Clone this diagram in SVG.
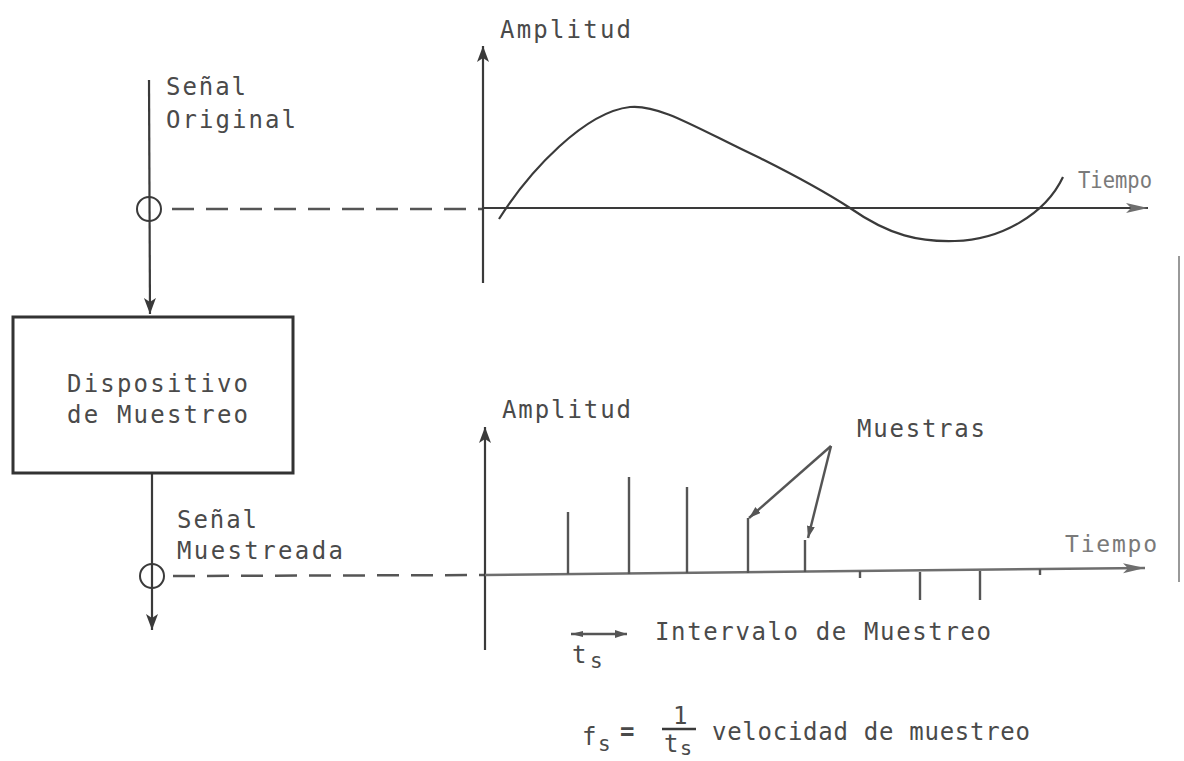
<svg xmlns="http://www.w3.org/2000/svg" width="1184" height="761" viewBox="0 0 1184 761">
<style>
.t{font-family:"DejaVu Sans Mono","Liberation Mono",monospace;font-size:24px;fill:#4a4a4a}
.lt{font-family:"DejaVu Sans Mono","Liberation Mono",monospace;font-size:23px;fill:#7a7a7a}
.ln{stroke:#3a3a3a;stroke-width:2.2;fill:none}
.gl{stroke:#6e6e6e;stroke-width:2.5;fill:none}
.ds{stroke:#555;stroke-width:2.5;fill:none;stroke-dasharray:22 12}
.smp{stroke:#555;stroke-width:2.4}
</style>
<defs>
<marker id="ah" markerUnits="userSpaceOnUse" markerWidth="20" markerHeight="14" refX="16" refY="6" orient="auto">
<path d="M0,0 L16,6 L0,12 L4,6 Z" fill="#3a3a3a"/>
</marker>
<marker id="ahg" markerUnits="userSpaceOnUse" markerWidth="24" markerHeight="14" refX="22" refY="6" orient="auto">
<path d="M0,1 L22,6 L0,11 L5,6 Z" fill="#6e6e6e"/>
</marker>
<marker id="ahs" markerUnits="userSpaceOnUse" markerWidth="14" markerHeight="10" refX="12" refY="4" orient="auto">
<path d="M0,0 L12,4 L0,8 Z" fill="#555"/>
</marker>
<marker id="ahss" markerUnits="userSpaceOnUse" markerWidth="14" markerHeight="10" refX="0" refY="3" orient="auto">
<path d="M12,0 L0,3 L12,6 Z" fill="#555"/>
</marker>
</defs>
<rect width="1184" height="761" fill="#ffffff"/>

<g id="connectors">
<line class="ln" x1="149" y1="80" x2="150" y2="314" marker-end="url(#ah)"/>
<line class="ln" x1="152" y1="473" x2="152" y2="630" marker-end="url(#ah)"/>
<line class="ds" x1="172" y1="209" x2="482" y2="209"/>
<line class="ds" x1="173" y1="576" x2="485" y2="575"/>
<line class="smp" x1="831" y1="446" x2="749" y2="518" marker-end="url(#ahs)"/>
<line class="smp" x1="831" y1="446" x2="808" y2="538" marker-end="url(#ahs)"/>
</g>

<g id="top-chart">
<line class="ln" x1="483" y1="283" x2="483" y2="46" marker-end="url(#ah)"/>
<line class="ln" x1="482" y1="208" x2="1148" y2="208" marker-end="url(#ahg)"/>
<path class="ln" d="M499,219 C530,170 585,112 630,107 C660,104 700,130 760,158 C800,178 830,195 850,208 C890,236 920,242 955,241 C1000,240 1045,215 1063,177"/>
<text class="t" x="500" y="38" textLength="131" lengthAdjust="spacing">Amplitud</text>
<text class="lt" x="1078" y="188" textLength="74" lengthAdjust="spacingAndGlyphs">Tiempo</text>
</g>

<g id="input-node">
<circle cx="149" cy="209" r="12" fill="none" stroke="#3a3a3a" stroke-width="2"/>
<text class="t" x="166" y="95" textLength="80" lengthAdjust="spacing">Señal</text>
<text class="t" x="166" y="128" textLength="130" lengthAdjust="spacing">Original</text>
</g>

<g id="sampler">
<rect x="13" y="317" width="280" height="156" fill="none" stroke="#333" stroke-width="3"/>
<text class="t" x="67" y="392" textLength="181" lengthAdjust="spacing">Dispositivo</text>
<text class="t" x="67" y="423" textLength="181" lengthAdjust="spacing">de Muestreo</text>
</g>

<g id="output-node">
<circle cx="152" cy="576" r="12" fill="none" stroke="#3a3a3a" stroke-width="2"/>
<text class="t" x="177" y="528" textLength="80" lengthAdjust="spacing">Señal</text>
<text class="t" x="177" y="559" textLength="166" lengthAdjust="spacing">Muestreada</text>
</g>

<g id="bottom-chart">
<line class="ln" x1="485" y1="650" x2="485" y2="427" marker-end="url(#ah)"/>
<line class="gl" x1="485" y1="575" x2="1145" y2="568" marker-end="url(#ahg)"/>
<line class="smp" x1="568" y1="512" x2="568" y2="574"/>
<line class="smp" x1="629" y1="477" x2="629" y2="574"/>
<line class="smp" x1="687" y1="487" x2="687" y2="573"/>
<line class="smp" x1="748" y1="518" x2="748" y2="573"/>
<line class="smp" x1="805" y1="540" x2="805" y2="572"/>
<line class="smp" x1="860" y1="571" x2="860" y2="578"/>
<line class="smp" x1="920" y1="572" x2="920" y2="600"/>
<line class="smp" x1="980" y1="571" x2="980" y2="600"/>
<line class="smp" x1="1040" y1="569" x2="1040" y2="575"/>
<text class="t" x="502" y="418" textLength="129" lengthAdjust="spacing">Amplitud</text>
<text class="t" x="857" y="437" textLength="128" lengthAdjust="spacing">Muestras</text>
<text class="lt" x="1065" y="552" textLength="92" lengthAdjust="spacing">Tiempo</text>
</g>

<g id="interval">
<line class="smp" x1="571" y1="634" x2="627" y2="634" marker-start="url(#ahss)" marker-end="url(#ahs)"/>
<text class="t" x="572" y="663">t</text>
<text class="t" x="590" y="668" style="font-size:21px">s</text>
<text class="t" x="655" y="640" textLength="336" lengthAdjust="spacing">Intervalo de Muestreo</text>
</g>

<g id="formula">
<text class="t" x="582" y="745">f</text>
<text class="t" x="598" y="751" style="font-size:21px">s</text>
<text class="t" x="620" y="740" style="font-weight:bold">=</text>
<text class="t" x="673" y="724">1</text>
<line x1="662" y1="729" x2="696" y2="729" stroke="#3a3a3a" stroke-width="2.5"/>
<text class="t" x="664" y="752">t</text>
<text class="t" x="680" y="755" style="font-size:20px">s</text>
<text class="t" x="712" y="740" textLength="318" lengthAdjust="spacing">velocidad de muestreo</text>
</g>

<line x1="1179" y1="256" x2="1179" y2="582" stroke="#999" stroke-width="2"/>
</svg>
